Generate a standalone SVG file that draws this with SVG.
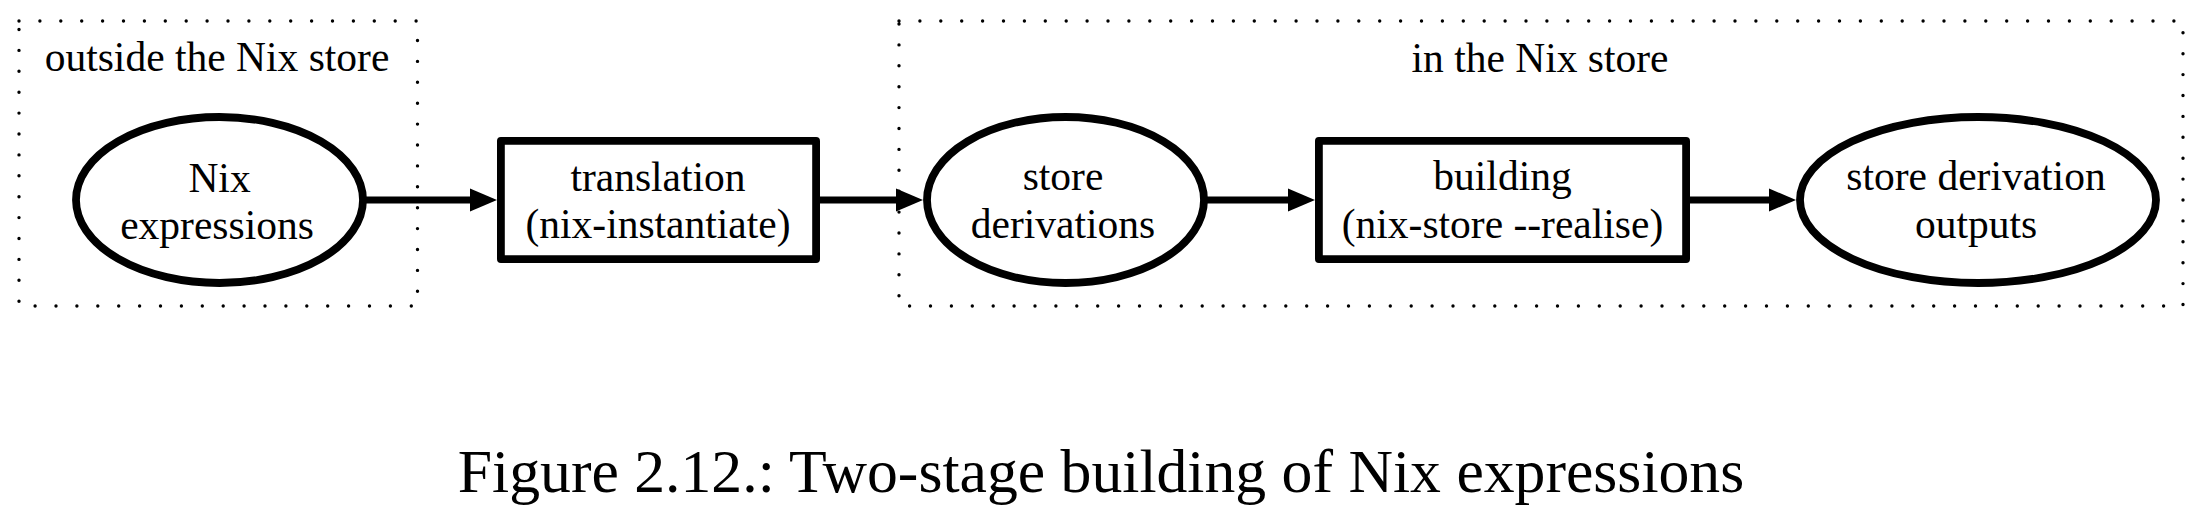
<svg xmlns="http://www.w3.org/2000/svg" width="2206" height="515" viewBox="0 0 2206 515">
<style>
  text { font-family: "Liberation Serif", "Times New Roman", serif; fill: #000; text-anchor: middle; }
  .lbl { font-size: 41.5px; }
  .cap { font-size: 61.7px; }
  .cluster { fill: none; stroke: #000; stroke-width: 3.4; stroke-linecap: round; stroke-dasharray: 0 20.9; }
  .node { fill: #fff; stroke: #000; stroke-width: 7.8; stroke-linejoin: round; }
  .edge { fill: none; stroke: #000; stroke-width: 6.8; }
</style>
<defs>
  <marker id="arrow" markerUnits="userSpaceOnUse" markerWidth="30" markerHeight="26" refX="0" refY="11.5" orient="auto" viewBox="0 0 30 23">
    <path d="M0,0 L27,11.5 L0,23 z" fill="#000"/>
  </marker>
</defs>
<rect width="2206" height="515" fill="#fff"/>

<g id="cluster-outside">
  <rect class="cluster" x="19" y="21" width="398.5" height="285"/>
  <text class="lbl" x="217" y="71">outside the Nix store</text>
</g>
<g id="cluster-inside">
  <rect class="cluster" x="899" y="21" width="1284" height="285"/>
  <text class="lbl" x="1540" y="72">in the Nix store</text>
</g>

<g id="connectors">
  <line class="edge" x1="366" y1="200" x2="470" y2="200" marker-end="url(#arrow)"/>
  <line class="edge" x1="819" y1="200" x2="896" y2="200" marker-end="url(#arrow)"/>
  <line class="edge" x1="1207" y1="200" x2="1288" y2="200" marker-end="url(#arrow)"/>
  <line class="edge" x1="1689" y1="200" x2="1769" y2="200" marker-end="url(#arrow)"/>
</g>

<g id="node-nix-expressions">
  <ellipse class="node" cx="219.5" cy="200" rx="143.5" ry="83"/>
  <text class="lbl" x="219.5" y="192">Nix</text>
  <text class="lbl" x="217" y="239">expressions</text>
</g>
<g id="node-translation">
  <rect class="node" x="500.9" y="140.9" width="315.2" height="118.2"/>
  <text class="lbl" x="658" y="191">translation</text>
  <text class="lbl" x="658" y="238">(nix-instantiate)</text>
</g>
<g id="node-store-derivations">
  <ellipse class="node" cx="1065.5" cy="200" rx="138.5" ry="83"/>
  <text class="lbl" x="1063" y="190">store</text>
  <text class="lbl" x="1063" y="238">derivations</text>
</g>
<g id="node-building">
  <rect class="node" x="1318.9" y="140.9" width="367.2" height="118.2"/>
  <text class="lbl" x="1502.5" y="190">building</text>
  <text class="lbl" x="1502.5" y="238">(nix-store --realise)</text>
</g>
<g id="node-outputs">
  <ellipse class="node" cx="1978" cy="200" rx="178" ry="83"/>
  <text class="lbl" x="1976" y="190">store derivation</text>
  <text class="lbl" x="1976" y="238">outputs</text>
</g>

<text class="cap" x="1101" y="492">Figure 2.12.: Two-stage building of Nix expressions</text>
</svg>
